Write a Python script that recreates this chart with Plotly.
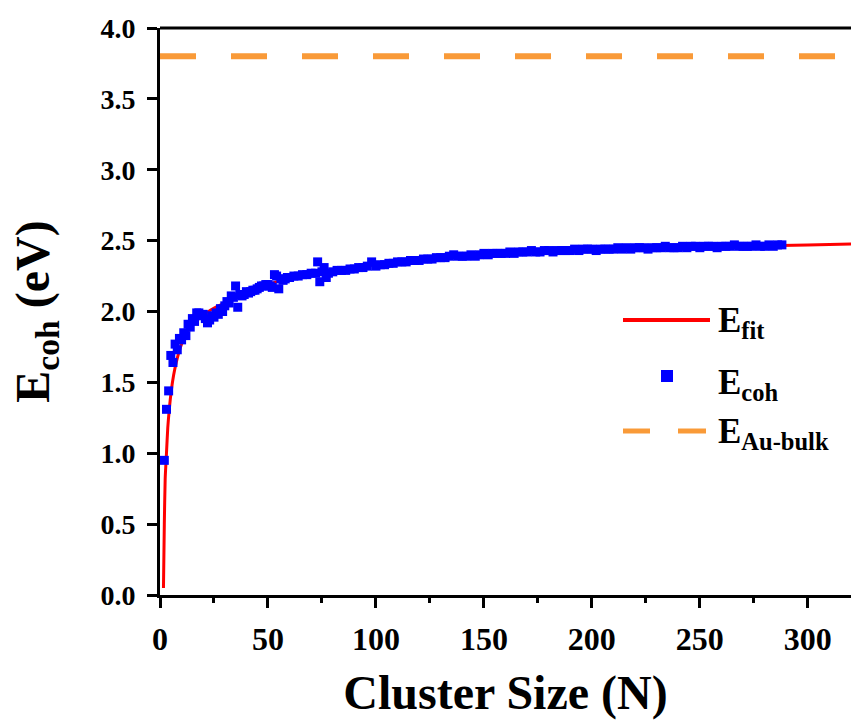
import plotly.graph_objects as go

# ---------------- data ----------------
fit_n = [1.6, 2.0, 2.4, 3.0, 3.6, 4.3, 5.3, 6.3, 7.5, 9.5, 12, 14, 18, 23.5, 30, 39, 48, 59,
         73, 85, 100, 125, 150, 175, 200, 225, 250, 275, 300, 320]
fit_e = [0.05, 0.50, 0.82, 1.00, 1.18, 1.31, 1.45, 1.55, 1.64, 1.75, 1.84, 1.89, 1.95, 2.01,
         2.06, 2.13, 2.18, 2.23, 2.27, 2.30, 2.33, 2.37, 2.40, 2.42, 2.435, 2.445, 2.455,
         2.463, 2.47, 2.476]

coh_n = list(range(2, 61)) + [62, 64, 66, 68, 70, 72, 73, 74, 75, 76, 77, 78] + list(range(80, 290, 2))
coh_e = [
    0.95, 1.31, 1.44, 1.69, 1.64, 1.77, 1.73, 1.81, 1.80, 1.85,   # 2-11
    1.83, 1.91, 1.89, 1.95, 1.93, 1.99, 1.99, 1.97, 1.98, 1.95,   # 12-21
    1.92, 1.94, 1.97, 1.96, 1.99, 1.98, 2.02, 2.00, 2.04, 2.07,   # 22-31
    2.06, 2.11, 2.10, 2.18, 2.03, 2.12, 2.11, 2.12, 2.14, 2.13,   # 32-41
    2.14, 2.15, 2.15, 2.16, 2.17, 2.18, 2.18, 2.19, 2.19, 2.18,   # 42-51
    2.17, 2.26, 2.25, 2.16, 2.23, 2.22, 2.23, 2.24, 2.24,         # 52-60
    2.25, 2.25, 2.26, 2.26, 2.27, 2.27, 2.35, 2.21, 2.28, 2.31, 2.24, 2.27,  # 62-78
    2.28, 2.29, 2.29, 2.29, 2.30, 2.30, 2.31, 2.31, 2.32, 2.35,   # 80-98
    2.32, 2.33, 2.33, 2.34, 2.34, 2.35, 2.35, 2.35, 2.36, 2.36,   # 100-118
    2.36, 2.37, 2.37, 2.37, 2.38, 2.38, 2.38, 2.39, 2.40, 2.39,   # 120-138
    2.39, 2.39, 2.40, 2.39, 2.40, 2.41, 2.40, 2.41, 2.41, 2.41,   # 140-158
    2.41, 2.42, 2.41, 2.42, 2.42, 2.42, 2.43, 2.42, 2.42, 2.43,   # 160-178
    2.43, 2.42, 2.43, 2.43, 2.43, 2.43, 2.44, 2.43, 2.44, 2.44,   # 180-198
    2.44, 2.43, 2.44, 2.44, 2.44, 2.44, 2.45, 2.44, 2.45, 2.44,   # 200-218
    2.45, 2.45, 2.45, 2.44, 2.45, 2.45, 2.45, 2.46, 2.45, 2.45,   # 220-238
    2.45, 2.46, 2.45, 2.46, 2.46, 2.45, 2.46, 2.46, 2.46, 2.45,   # 240-258
    2.46, 2.46, 2.46, 2.47, 2.46, 2.46, 2.46, 2.46, 2.47, 2.46,   # 260-278
    2.46, 2.47, 2.46, 2.47, 2.47,                                 # 280-288
]

bulk_n = [0, 320]
bulk_e = [3.8, 3.8]

x_ticks = [0, 50, 100, 150, 200, 250, 300]
y_ticks = [0.0, 0.5, 1.0, 1.5, 2.0, 2.5, 3.0, 3.5, 4.0]

# ---------------- figure ----------------
FONT = "Liberation Serif"
RED = "#FF0000"
BLUE = "#0000FF"
ORANGE = "#F99A38"

W, H = 851, 720
L, R, T, B = 160, 0, 28, 125
PW, PH = W - L - R, H - T - B


def px(x):
    return (x - L) / PW


def py(y):
    return (H - B - y) / PH


def bold(s):
    return "<b>" + s + "</b>"


fig = go.Figure()
fig.add_trace(go.Scatter(x=fit_n, y=fit_e, mode="lines", line=dict(color=RED, width=3, shape="spline", smoothing=0.6),
                         showlegend=False))
fig.add_trace(go.Scatter(x=coh_n, y=coh_e, mode="markers",
                         marker=dict(symbol="square", color=BLUE, size=9, line=dict(width=0)),
                         showlegend=False))
fig.add_trace(go.Scatter(x=bulk_n, y=bulk_e, mode="lines",
                         line=dict(color=ORANGE, width=6, dash="36px,35px"), showlegend=False))

shapes = [
    dict(type="line", xref="paper", yref="paper", x0=0, x1=1, y0=1, y1=1, line=dict(color="black", width=3)),
    dict(type="line", xref="paper", yref="paper", x0=px(623), x1=px(710), y0=py(320), y1=py(320),
         line=dict(color=RED, width=4)),
    dict(type="rect", xref="paper", yref="paper", x0=px(661), x1=px(673), y0=py(382), y1=py(370),
         fillcolor=BLUE, line=dict(width=0)),
    dict(type="line", xref="paper", yref="paper", x0=px(623), x1=px(650), y0=py(431), y1=py(431),
         line=dict(color=ORANGE, width=5)),
    dict(type="line", xref="paper", yref="paper", x0=px(678), x1=px(706), y0=py(431), y1=py(431),
         line=dict(color=ORANGE, width=5)),
]

ann_font = dict(family=FONT, size=35, color="black")
annotations = [
    dict(text=bold("E<sub>fit</sub>"), xref="paper", yref="paper", x=px(716), y=py(322), xanchor="left",
         yanchor="middle", showarrow=False, font=ann_font),
    dict(text=bold("E<sub>coh</sub>"), xref="paper", yref="paper", x=px(716), y=py(384), xanchor="left",
         yanchor="middle", showarrow=False, font=ann_font),
    dict(text=bold("E<sub>Au-bulk</sub>"), xref="paper", yref="paper", x=px(716), y=py(433), xanchor="left",
         yanchor="middle", showarrow=False, font=ann_font),
]

fig.update_layout(
    width=W, height=H,
    margin=dict(l=L, r=R, t=T, b=B, pad=0),
    paper_bgcolor="white", plot_bgcolor="white",
    font=dict(family=FONT, color="black"),
    shapes=shapes, annotations=annotations,
    showlegend=False,
)

fig.update_xaxes(
    range=[0, 320], tickvals=x_ticks, ticktext=[bold(str(v)) for v in x_ticks],
    showgrid=False, zeroline=False,
    showline=True, linecolor="black", linewidth=3,
    ticks="outside", ticklen=10, tickwidth=3, tickcolor="black",
    minor=dict(ticks="outside", ticklen=5, tickwidth=3, tickcolor="black", dtick=25, tick0=0),
    tickfont=dict(family=FONT, size=32, color="black"),
    ticklabelstandoff=4,
    title=dict(text=bold("Cluster Size (N)"), font=dict(family=FONT, size=48, color="black"), standoff=27),
)
fig.update_yaxes(
    range=[0, 4], tickvals=y_ticks, ticktext=[bold(f"{v:.1f}") for v in y_ticks],
    showgrid=False, zeroline=False,
    showline=True, linecolor="black", linewidth=3,
    ticks="outside", ticklen=10, tickwidth=3, tickcolor="black",
    tickfont=dict(family=FONT, size=28, color="black"),
    ticklabelstandoff=6,
    title=dict(text=bold("E<sub>coh</sub> (eV)"), font=dict(family=FONT, size=48, color="black"), standoff=36),
)

fig.write_html("out.html")
